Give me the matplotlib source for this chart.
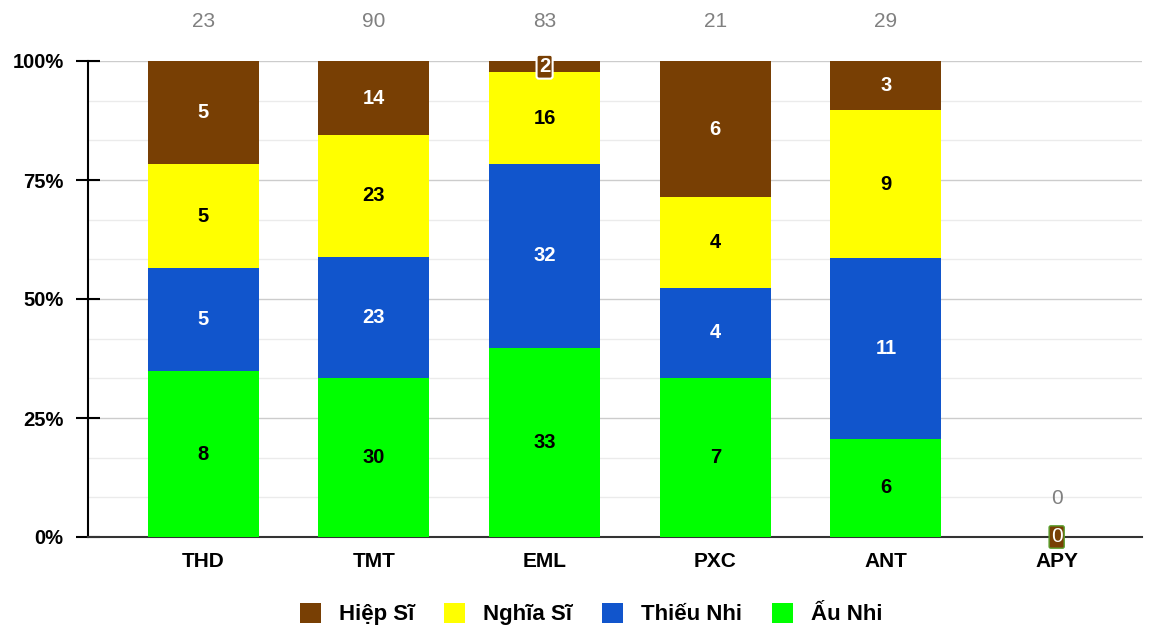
import numpy as np
import matplotlib.pyplot as plt
from matplotlib.ticker import MultipleLocator, FuncFormatter

plt.rcParams['font.family'] = ['Liberation Sans', 'DejaVu Sans']

categories = ['THD', 'TMT', 'EML', 'PXC', 'ANT', 'APY']
au_nhi = [8, 30, 33, 7, 6, 0]
thieu_nhi = [5, 23, 32, 4, 11, 0]
nghia_si = [5, 23, 16, 4, 9, 0]
hiep_si = [5, 14, 2, 6, 3, 0]

series = [
    ('Ấu Nhi', au_nhi, '#00ff00', 'black'),
    ('Thiếu Nhi', thieu_nhi, '#1155cc', 'white'),
    ('Nghĩa Sĩ', nghia_si, '#ffff00', 'black'),
    ('Hiệp Sĩ', hiep_si, '#783f04', 'white'),
]

totals = np.array(au_nhi) + np.array(thieu_nhi) + np.array(nghia_si) + np.array(hiep_si)
safe = np.where(totals == 0, 1, totals)

fig = plt.figure(figsize=(11.56, 6.25), dpi=100)
ax = fig.add_axes([88 / 1156, (625 - 537) / 625, (1142 - 88) / 1156, 476 / 625])

x = np.arange(len(categories))
bottom = np.zeros(len(categories))
handles = {}
for name, vals, color, tcolor in series:
    frac = np.array(vals) / safe
    h = ax.bar(x, frac, 0.65, bottom=bottom, color=color, label=name, zorder=3)
    handles[name] = h
    for i, v in enumerate(vals):
        if totals[i] == 0:
            continue
        if frac[i] < 0.05:
            # small segment -> boxed label like the original
            ax.text(x[i], bottom[i] + frac[i] / 2, str(v), ha='center', va='center',
                    fontsize=14.5, fontweight='bold', color='white', zorder=5,
                    bbox=dict(boxstyle='round,pad=0.12', fc=color, ec='white', lw=1.5))
        else:
            ax.text(x[i], bottom[i] + frac[i] / 2, str(v), ha='center', va='center',
                    fontsize=14.5, fontweight='bold', color=tcolor, zorder=5)
    bottom += frac

# totals above bars
for i, t in enumerate(totals):
    if t == 0:
        ax.text(x[i], 0.08, str(t), ha='center', va='center', fontsize=15, color='#808080')
        ax.text(x[i], 0.0, '0', ha='center', va='center', fontsize=15, color='white', zorder=6,
                bbox=dict(boxstyle='round,pad=0.08', fc='#783f04', ec='#5aa02c', lw=1))
    else:
        ax.text(x[i], 1.082, str(t), ha='center', va='center', fontsize=15,
                color='#808080', clip_on=False)

ax.set_xlim(-0.675, 5.5)
ax.set_ylim(0, 1.0)
ax.yaxis.set_major_locator(MultipleLocator(0.25))
ax.yaxis.set_minor_locator(MultipleLocator(0.25 / 3))
ax.yaxis.set_major_formatter(FuncFormatter(lambda v, p: f'{int(round(v * 100))}%'))
ax.grid(axis='y', which='major', color='#cccccc', lw=1, zorder=0)
ax.grid(axis='y', which='minor', color='#ebebeb', lw=1, zorder=0)
ax.set_xticks(x)
ax.set_xticklabels(categories, fontsize=15, fontweight='bold')
for lab in ax.get_yticklabels():
    lab.set_fontweight('bold')
    lab.set_fontsize(14.5)
ax.tick_params(axis='y', which='major', direction='inout', length=17, width=1.5, pad=9)
ax.tick_params(axis='y', which='minor', length=0)
ax.tick_params(axis='x', length=0, pad=11)
for s in ['top', 'right']:
    ax.spines[s].set_visible(False)
ax.spines['left'].set_linewidth(1.5)
ax.spines['bottom'].set_linewidth(1.5)
ax.spines['bottom'].set_color('#333333')

order = ['Hiệp Sĩ', 'Nghĩa Sĩ', 'Thiếu Nhi', 'Ấu Nhi']
fig.legend([handles[n] for n in order], order, loc='center', ncol=4,
           bbox_to_anchor=(591 / 1156, (625 - 614) / 625), frameon=False,
           prop={'size': 16, 'weight': 'bold'}, handlelength=0.95, handleheight=1.0,
           columnspacing=1.35, handletextpad=0.8, borderpad=0)

fig.savefig('out.png', dpi=100)
